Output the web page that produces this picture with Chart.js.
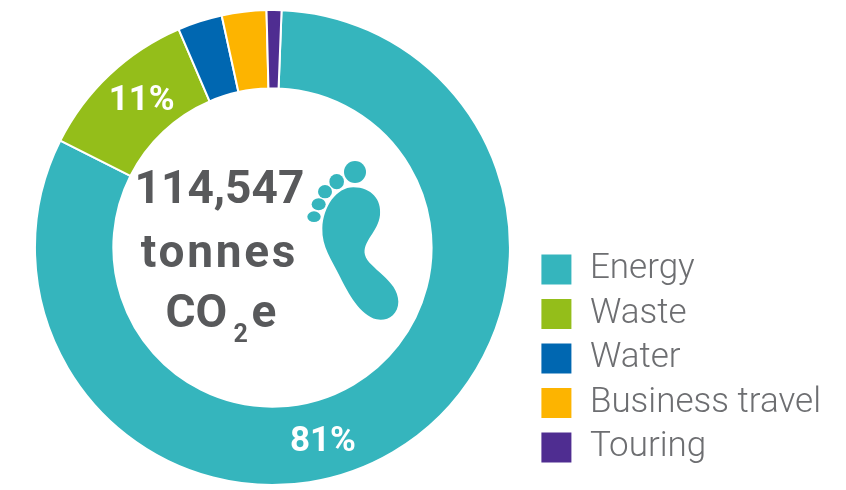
<!DOCTYPE html>
<html>
<head>
<meta charset="utf-8">
<style>
  html, body { margin: 0; padding: 0; background: #fff; }
  #wrap { width: 846px; height: 490px; position: relative; }
</style>
<script src="https://cdn.jsdelivr.net/npm/chart.js@4"></script>
</head>
<body>
<div id="wrap"><canvas id="chart"></canvas></div>
<script>
const categories = ['Energy', 'Waste', 'Water', 'Business travel', 'Touring'];
const shares = [81, 11, 3, 3, 1];
const sliceColors = ['#35b5bd', '#94be1a', '#0067b1', '#fdb400', '#4f2d91'];
const sliceLabels = ['81%', '11%', '', '', ''];
// the 81% label sits off the arc's middle in the original
const labelShift = [16, 1.5, 0, 0, 0];
const labelRadial = [3, -2, 0, 0, 0];
const centerLines = ['114,547', 'tonnes'];

const textGrey = '#58595b';

const footprint = {
    id: 'footprint',
    afterLayout(chart) {
        // legend stops above the bottom of the ring
        chart.legend.bottom -= 11.5;
    },
    afterDatasetsDraw(chart) {
        const ctx = chart.ctx;
        const arcs = chart.getDatasetMeta(0).data;

        // slice labels
        ctx.save();
        ctx.fillStyle = '#fff';
        ctx.font = 'bold 35px Roboto';
        ctx.textAlign = 'center';
        ctx.textBaseline = 'middle';
        arcs.forEach((arc, i) => {
            if (!sliceLabels[i]) return;
            const mid = (arc.startAngle + arc.endAngle) / 2 + labelShift[i] * Math.PI / 180;
            const r = (arc.innerRadius + arc.outerRadius) / 2 + labelRadial[i];
            ctx.fillText(sliceLabels[i], arc.x + Math.cos(mid) * r, arc.y + Math.sin(mid) * r);
        });

        // centre text
        const cx = arcs[0].x - 53;
        const cy = arcs[0].y;
        ctx.fillStyle = textGrey;
        ctx.font = 'bold 46px Roboto';
        ctx.fillText(centerLines[0], cx, cy - 56);
        ctx.letterSpacing = '2.7px';
        ctx.fillText(centerLines[1], cx, cy + 8);
        ctx.letterSpacing = '0px';
        ctx.textAlign = 'left';
        ctx.fillText('CO', cx - 54, cy + 68);
        ctx.fillText('e', cx + 32, cy + 68);
        ctx.font = 'bold 25px Roboto';
        ctx.fillText('2', cx + 14, cy + 88);

        // foot icon
        ctx.translate(120, 140);
        ctx.scale(1 / 3, 1 / 3);
        ctx.fillStyle = sliceColors[0];
        const toes = [[705, 96, 33, 33], [650, 125, 22, 23], [615, 155, 21, 20], [596, 193, 21, 18], [582, 230, 20, 16]];
        toes.forEach(t => {
            ctx.beginPath();
            ctx.ellipse(t[0], t[1], t[2], t[3], 0, 0, Math.PI * 2);
            ctx.fill();
        });
        ctx.beginPath();
        ctx.moveTo(700, 142);
        ctx.bezierCurveTo(755, 142, 785, 180, 780, 225);
        ctx.bezierCurveTo(775, 275, 725, 305, 735, 345);
        ctx.bezierCurveTo(745, 385, 835, 420, 835, 485);
        ctx.bezierCurveTo(835, 525, 800, 545, 770, 538);
        ctx.bezierCurveTo(720, 525, 685, 460, 660, 410);
        ctx.bezierCurveTo(635, 360, 605, 320, 607, 265);
        ctx.bezierCurveTo(609, 200, 650, 142, 700, 142);
        ctx.fill();
        ctx.restore();
    }
};

new Chart(document.getElementById('chart'), {
    type: 'doughnut',
    data: {
        labels: categories,
        datasets: [{
            data: shares,
            backgroundColor: sliceColors,
            borderColor: '#fff',
            borderWidth: 2
        }]
    },
    options: {
        responsive: true,
        maintainAspectRatio: false,
        animation: false,
        cutout: '67%',
        rotation: 2.2,
        layout: {
            padding: { left: 14, right: 15, top: 9, bottom: 4 }
        },
        plugins: {
            tooltip: { enabled: false },
            legend: {
                position: 'right',
                align: 'end',
                labels: {
                    boxWidth: 32,
                    boxHeight: 32,
                    padding: 9.5,
                    color: '#6d6e71',
                    font: { family: 'Roboto', size: 35, weight: '300' }
                }
            }
        }
    },
    plugins: [footprint]
});
</script>
</body>
</html>
